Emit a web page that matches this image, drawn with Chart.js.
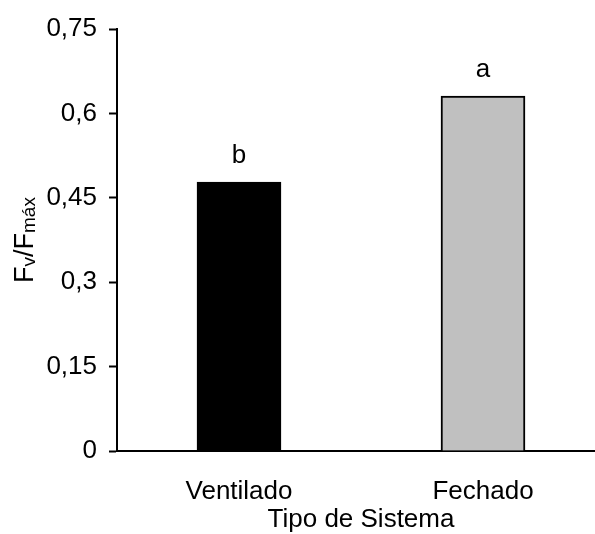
<!DOCTYPE html>
<html lang="pt">
<head>
  <meta charset="UTF-8" />
  <title>Fv/Fmáx por tipo de sistema</title>
  <script src="https://cdn.jsdelivr.net/npm/chart.js"></script>
  <style>
    html, body { margin: 0; padding: 0; background: #fff; overflow: hidden; }
  </style>
</head>
<body>
  <canvas id="fvChart" width="605" height="534"></canvas>

  <script>
    // dados
    const sistemas = ['Ventilado', 'Fechado'];
    const fvFmax = [0.478, 0.631];
    const letras = ['b', 'a'];
    const corBarras = ['#000000', '#c0c0c0'];
    const yTickLabels = ['0', '0,15', '0,3', '0,45', '0,6', '0,75'];

    const FONTE = '"Liberation Sans", Arial, sans-serif';

    // letras de significância acima das barras
    const letrasPlugin = {
      id: 'letras',
      afterDatasetsDraw(chart) {
        const ctx = chart.ctx;
        const meta = chart.getDatasetMeta(0);
        ctx.save();
        ctx.font = '26px ' + FONTE;
        ctx.fillStyle = '#000';
        ctx.textAlign = 'center';
        ctx.textBaseline = 'alphabetic';
        meta.data.forEach((bar, i) => {
          ctx.fillText(letras[i], bar.x, bar.y - 19);
        });
        ctx.restore();
      }
    };

    // título do eixo y com subscritos: Fv/Fmáx
    const tituloYPlugin = {
      id: 'tituloY',
      afterDraw(chart) {
        const ctx = chart.ctx;
        const y = chart.scales.y;
        const partes = [
          { t: 'F', size: 27, dy: 0 },
          { t: 'v', size: 19, dy: 2 },
          { t: '/F', size: 27, dy: 0 },
          { t: 'máx', size: 19, dy: 2 }
        ];
        ctx.save();
        let total = 0;
        partes.forEach(p => {
          ctx.font = p.size + 'px ' + FONTE;
          p.w = ctx.measureText(p.t).width;
          total += p.w;
        });
        ctx.translate(33, (y.top + y.bottom) / 2);
        ctx.rotate(-Math.PI / 2);
        ctx.fillStyle = '#000';
        ctx.textBaseline = 'alphabetic';
        ctx.textAlign = 'left';
        let x = -total / 2;
        partes.forEach(p => {
          ctx.font = p.size + 'px ' + FONTE;
          ctx.fillText(p.t, x, p.dy);
          x += p.w;
        });
        ctx.restore();
      }
    };

    new Chart(document.getElementById('fvChart'), {
      type: 'bar',
      data: {
        labels: sistemas,
        datasets: [{
          data: fvFmax,
          backgroundColor: corBarras,
          borderColor: '#000',
          borderWidth: 2,
          borderSkipped: 'start',
          barThickness: 84
        }]
      },
      options: {
        responsive: false,
        animation: false,
        layout: { padding: { top: 29, left: 0, right: 0, bottom: 0 } },
        plugins: {
          legend: { display: false },
          tooltip: { enabled: false }
        },
        scales: {
          x: {
            offset: true,
            grid: { display: false },
            border: { display: true, color: '#000', width: 2 },
            ticks: {
              color: '#000',
              padding: 17,
              font: { family: FONTE, size: 26 }
            },
            title: {
              display: true,
              text: 'Tipo de Sistema',
              color: '#000',
              padding: { top: 0, bottom: 1 },
              font: { family: FONTE, size: 26, lineHeight: 1 }
            },
            afterFit(scale) { scale.height = 83; }
          },
          y: {
            min: 0,
            max: 0.75,
            grid: {
              display: true,
              drawOnChartArea: false,
              drawTicks: true,
              tickLength: 8,
              tickWidth: 2,
              tickColor: '#000'
            },
            border: { display: true, color: '#000', width: 2 },
            ticks: {
              stepSize: 0.15,
              color: '#000',
              padding: 12,
              font: { family: FONTE, size: 26 },
              callback: (v, i) => yTickLabels[i]
            },
            afterFit(scale) { scale.width = 117; }
          }
        }
      },
      plugins: [letrasPlugin, tituloYPlugin]
    });
  </script>
</body>
</html>
